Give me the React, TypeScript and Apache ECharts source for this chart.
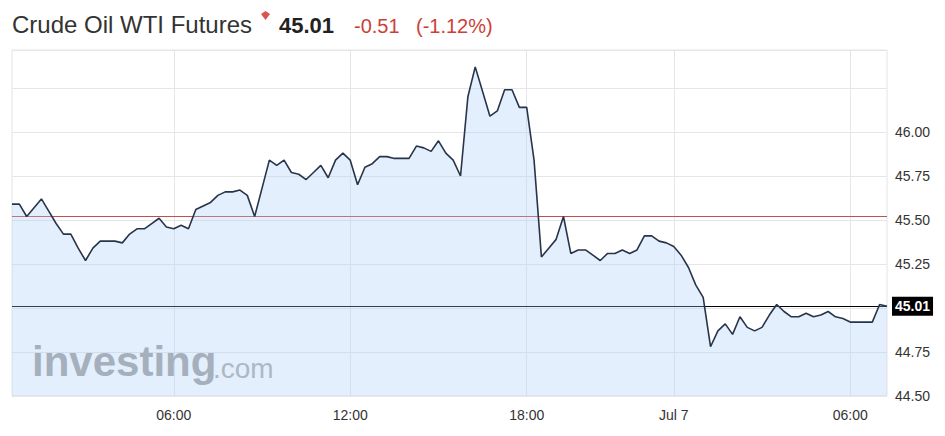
import React, { useEffect, useRef } from "react";
import * as echarts from "echarts";

const FONT = "'Liberation Sans', Arial, Helvetica, sans-serif";

// Instrument header
const instrumentName = "Crude Oil WTI Futures";
const lastPrice = 45.01;
const priceChange = -0.51;
const priceChangePct = -1.12;
const previousClose = 45.52;

// 15-minute closes, Jul 6 00:30 -> Jul 7 07:15 (one-hour session break before midnight)
const prices = [
  45.59, 45.59, 45.52, 45.57, 45.62, 45.55, 45.48, 45.42, 45.42, 45.34,
  45.27, 45.34, 45.38, 45.38, 45.38, 45.37, 45.42, 45.45, 45.45, 45.48,
  45.51, 45.46, 45.45, 45.47, 45.45, 45.56, 45.58, 45.6, 45.64, 45.66,
  45.66, 45.67, 45.64, 45.52, 45.68, 45.84, 45.81, 45.84, 45.77, 45.76,
  45.73, 45.77, 45.81, 45.74, 45.84, 45.88, 45.84, 45.7, 45.8, 45.82,
  45.86, 45.86, 45.85, 45.85, 45.85, 45.92, 45.91, 45.89, 45.95, 45.88,
  45.84, 45.75, 46.2, 46.37, 46.23, 46.09, 46.12, 46.24, 46.24, 46.14,
  46.14, 45.84, 45.29, 45.34, 45.39, 45.52, 45.31, 45.33, 45.33, 45.3,
  45.27, 45.31, 45.31, 45.33, 45.31, 45.33, 45.41, 45.41, 45.38, 45.37,
  45.35, 45.3, 45.23, 45.13, 45.06, 44.78, 44.87, 44.91, 44.85, 44.95,
  44.89, 44.87, 44.89, 44.96, 45.02, 44.98, 44.95, 44.95, 44.97, 44.95,
  44.96, 44.98, 44.95, 44.94, 44.92, 44.92, 44.92, 44.92, 45.02, 45.01,
];

// Time categories
const firstSlotMinutes = 30; // 00:30 on Jul 6
const slotMinutes = 15;
const breakAfterIndex = 89; // session break (1 hour) after this slot
const breakMinutes = 60;

const categories: string[] = prices.map((_, i) => {
  let m = firstSlotMinutes + slotMinutes * i + (i > breakAfterIndex ? breakMinutes : 0);
  const day = m >= 1440 ? "Jul 7" : "Jul 6";
  m = m % 1440;
  const hh = String(Math.floor(m / 60)).padStart(2, "0");
  const mm = String(m % 60).padStart(2, "0");
  return `${day} ${hh}:${mm}`;
});

// Axis ticks
const xTickTimes = ["Jul 6 06:00", "Jul 6 12:00", "Jul 6 18:00", "Jul 7 00:00", "Jul 7 06:00"];
const xTickLabels = ["06:00", "12:00", "18:00", "Jul 7", "06:00"];
const yTickLabels = ["44.50", "44.75", "45.25", "45.50", "45.75", "46.00"];

const isXTick = (_i: number, v: string) => xTickTimes.includes(v);

export default function App() {
  const ref = useRef<HTMLDivElement>(null);

  useEffect(() => {
    document.body.style.margin = "0";
    const chart = echarts.init(ref.current!, null, { renderer: "svg" });
    const changeText = priceChange.toFixed(2);
    const pctText = `(${priceChangePct.toFixed(2)}%)`;

    chart.setOption({
      animation: false,
      backgroundColor: "#fff",
      textStyle: { fontFamily: FONT },
      grid: {
        left: 12,
        right: 58,
        top: 50,
        bottom: 40,
        show: true,
        borderColor: "#e4e4e4",
        borderWidth: 1,
        backgroundColor: "transparent",
      },
      xAxis: {
        type: "category",
        data: categories,
        boundaryGap: false,
        axisLine: { show: false },
        axisTick: { show: false },
        axisLabel: {
          interval: isXTick,
          formatter: (v: string) => {
            const k = xTickTimes.indexOf(v);
            return k >= 0 ? xTickLabels[k] : "";
          },
          color: "#333",
          fontSize: 14,
          margin: 12,
          fontFamily: FONT,
        },
        splitLine: {
          show: true,
          interval: isXTick,
          lineStyle: { color: "#e6e6e6", width: 1 },
        },
      },
      yAxis: {
        type: "value",
        position: "right",
        min: 44.5,
        max: 46.466,
        interval: 0.25,
        axisLine: { show: false },
        axisTick: { show: false },
        axisLabel: {
          formatter: (v: number) => {
            const s = v.toFixed(2);
            return yTickLabels.includes(s) ? s : "";
          },
          margin: 8,
          color: "#333",
          fontSize: 14,
          fontFamily: FONT,
        },
        splitLine: { show: true, lineStyle: { color: "#e6e6e6", width: 1 } },
      },
      series: [
        {
          type: "line",
          name: instrumentName,
          data: prices,
          z: 3,
          symbol: "none",
          lineStyle: { color: "#27344a", width: 1.6 },
          areaStyle: { color: "rgba(165,203,245,0.45)" },
          markLine: {
            z: 1,
            silent: true,
            symbol: ["none", "none"],
            data: [
              {
                yAxis: previousClose,
                lineStyle: { color: "#c0504d", width: 1, type: "solid" },
                label: { show: false },
              },
              {
                yAxis: lastPrice,
                lineStyle: { color: "#000", width: 1, type: "solid" },
                label: {
                  show: true,
                  position: "end",
                  distance: 5,
                  formatter: lastPrice.toFixed(2),
                  color: "#fff",
                  backgroundColor: "#000",
                  fontWeight: "bold",
                  fontSize: 14,
                  fontFamily: FONT,
                  padding: [3, 3, 2, 3],
                },
              },
            ],
          },
        },
      ],
      graphic: [
        {
          type: "text",
          left: 12,
          top: 12,
          style: {
            text: instrumentName,
            fontSize: 24,
            fontFamily: FONT,
            fill: "#333",
          },
        },
        {
          type: "polygon",
          shape: {
            points: [
              [261, 14],
              [265.5, 11],
              [270, 14],
              [265.5, 20],
            ],
          },
          style: { fill: "#d9534f" },
        },
        {
          type: "text",
          left: 279,
          top: 14,
          style: {
            text: lastPrice.toFixed(2),
            fontSize: 22,
            fontWeight: "bold",
            fontFamily: FONT,
            fill: "#222",
          },
        },
        {
          type: "text",
          left: 354,
          top: 16,
          style: {
            text: changeText,
            fontSize: 20,
            fontFamily: FONT,
            fill: "#cc3f38",
          },
        },
        {
          type: "text",
          left: 416,
          top: 16,
          style: {
            text: pctText,
            fontSize: 20,
            fontFamily: FONT,
            fill: "#cc3f38",
          },
        },
        {
          type: "text",
          left: 32,
          top: 340,
          z: 10,
          style: {
            text: "investing",
            fontSize: 42,
            fontWeight: "bold",
            fontFamily: FONT,
            fill: "#a5b0bc",
          },
        },
        {
          type: "text",
          left: 213,
          top: 354,
          z: 10,
          style: {
            text: ".com",
            fontSize: 28,
            fontFamily: FONT,
            fill: "#adb8c3",
          },
        },
      ],
    });

    return () => chart.dispose();
  }, []);

  return (
    <div
      ref={ref}
      style={{ position: "fixed", left: 0, top: 0, width: 945, height: 436 }}
    />
  );
}
